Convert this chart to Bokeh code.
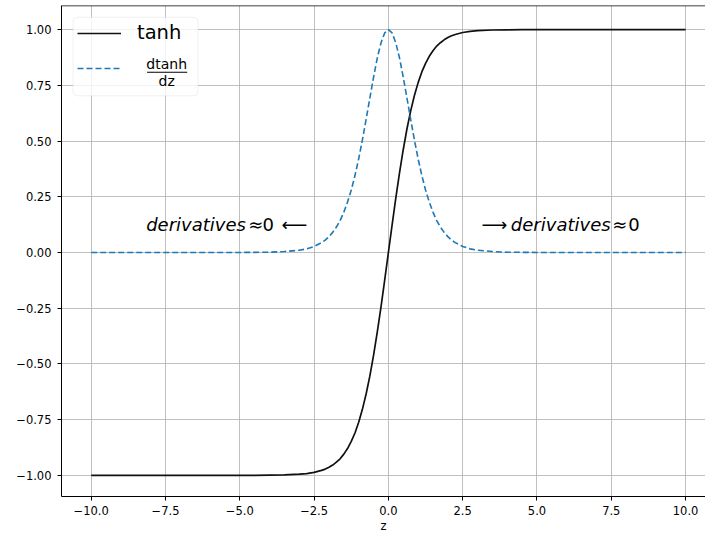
from bokeh.plotting import figure
from bokeh.models import (Range1d, FixedTicker, CustomJSTickFormatter, Legend, LegendItem,
                          BoxAnnotation, Label, ColumnDataSource, Span)
from bokeh.embed import file_html
from bokeh.resources import INLINE

# ---- data ----
z = [-10, -8, -6, -5, -4.5, -4, -3.5, -3, -2.75, -2.5, -2.25, -2.125, -2, -1.875, -1.75,
     -1.625, -1.5, -1.375, -1.25, -1.125, -1, -0.875, -0.75, -0.625, -0.5, -0.375, -0.25,
     -0.125, 0, 0.125, 0.25, 0.375, 0.5, 0.625, 0.75, 0.875, 1, 1.125, 1.25, 1.375, 1.5,
     1.625, 1.75, 1.875, 2, 2.125, 2.25, 2.5, 2.75, 3, 3.5, 4, 4.5, 5, 6, 8, 10]
tanh_vals = [-1.000, -1.000, -1.000, -1.000, -1.000, -0.999, -0.998, -0.995, -0.992, -0.987,
             -0.978, -0.972, -0.964, -0.954, -0.941, -0.926, -0.905, -0.880, -0.848, -0.810,
             -0.762, -0.704, -0.635, -0.555, -0.462, -0.358, -0.245, -0.124, 0.000, 0.124,
             0.245, 0.358, 0.462, 0.555, 0.635, 0.704, 0.762, 0.810, 0.848, 0.880, 0.905,
             0.926, 0.941, 0.954, 0.964, 0.972, 0.978, 0.987, 0.992, 0.995, 0.998, 0.999,
             1.000, 1.000, 1.000, 1.000, 1.000]
dtanh_vals = [0.000, 0.000, 0.000, 0.000, 0.0005, 0.001, 0.004, 0.010, 0.016, 0.027, 0.044,
              0.055, 0.071, 0.090, 0.114, 0.143, 0.181, 0.226, 0.280, 0.345, 0.420, 0.505,
              0.597, 0.692, 0.786, 0.872, 0.940, 0.985, 1.000, 0.985, 0.940, 0.872, 0.786,
              0.692, 0.597, 0.505, 0.420, 0.345, 0.280, 0.226, 0.181, 0.143, 0.114, 0.090,
              0.071, 0.055, 0.044, 0.027, 0.016, 0.010, 0.004, 0.001, 0.0005, 0.000, 0.000,
              0.000, 0.000]
x_ticks = [-10.0, -7.5, -5.0, -2.5, 0.0, 2.5, 5.0, 7.5, 10.0]
x_tick_labels = ["\u221210.0", "\u22127.5", "\u22125.0", "\u22122.5", "0.0", "2.5", "5.0", "7.5", "10.0"]
y_ticks = [-1.0, -0.75, -0.5, -0.25, 0.0, 0.25, 0.5, 0.75, 1.0]
y_tick_labels = ["\u22121.00", "\u22120.75", "\u22120.50", "\u22120.25", "0.00", "0.25", "0.50", "0.75", "1.00"]
series_names = ["tanh", "dtanh", "dz"]
x_label = "z"
left_note = ["derivatives", "\u2248", "0", "\u27f5"]
right_note = ["\u27f6", "derivatives", "\u2248", "0"]

FONT = "DejaVu Sans"
TICK_SIZE = "11.5px"
Y_TOP = 1.108

p = figure(width=705, height=535, output_backend="svg", toolbar_location=None,
           x_range=Range1d(-11.0, 10.67), y_range=Range1d(-1.095, Y_TOP),
           min_border_left=61, min_border_right=0, min_border_top=5, min_border_bottom=37)
p.background_fill_color = "white"
p.border_fill_color = "white"
p.outline_line_color = None

fmt_js = ("const i = tick_vals.findIndex(t => Math.abs(t - tick) < 1e-9);"
          "return i >= 0 ? tick_labels[i] : '';")
p.xaxis.ticker = FixedTicker(ticks=x_ticks)
p.yaxis.ticker = FixedTicker(ticks=y_ticks)
p.xaxis.formatter = CustomJSTickFormatter(args=dict(tick_vals=x_ticks, tick_labels=x_tick_labels), code=fmt_js)
p.yaxis.formatter = CustomJSTickFormatter(args=dict(tick_vals=y_ticks, tick_labels=y_tick_labels), code=fmt_js)

for ax in (p.xaxis[0], p.yaxis[0]):
    ax.axis_line_color = "black"
    ax.axis_line_width = 1
    ax.major_tick_line_color = "black"
    ax.major_tick_in = 0
    ax.major_tick_out = 4
    ax.minor_tick_line_color = None
    ax.major_label_text_font = FONT
    ax.major_label_text_font_size = TICK_SIZE
    ax.major_label_text_color = "black"
p.xaxis.major_label_standoff = 5
p.yaxis.major_label_standoff = 6
p.xaxis.axis_label = x_label
p.xaxis.axis_label_text_font = FONT
p.xaxis.axis_label_text_font_size = TICK_SIZE
p.xaxis.axis_label_text_font_style = "normal"
p.xaxis.axis_label_text_color = "black"
p.xaxis.axis_label_standoff = 1

p.xgrid.ticker = FixedTicker(ticks=x_ticks)
p.ygrid.ticker = FixedTicker(ticks=y_ticks)
for g in (p.xgrid[0], p.ygrid[0]):
    g.grid_line_color = "#b0b0b0"
    g.grid_line_width = 0.8

# top spine
p.add_layout(Span(location=Y_TOP, dimension="width", line_color="black", line_width=1.5))

src = ColumnDataSource(dict(z=z, t=tanh_vals, d=dtanh_vals))
r1 = p.line("z", "t", source=src, line_color="#111111", line_width=1.7)
r2 = p.line("z", "d", source=src, line_color="#1f77b4", line_width=1.6, line_dash="6 3")

# legend frame
p.add_layout(BoxAnnotation(left=-10.61, right=-6.41, top=1.055, bottom=0.703,
                           fill_color="white", fill_alpha=0.8, line_color="#cccccc",
                           line_width=1, border_radius=4))

legend = Legend(items=[LegendItem(label=series_names[0], renderers=[r1]),
                       LegendItem(label=" ", renderers=[r2])],
                location="top_left", margin=16, padding=0, spacing=14,
                glyph_width=44, glyph_height=20, label_height=20, label_standoff=16,
                label_text_font=FONT, label_text_font_size="19.5px", label_text_color="black",
                background_fill_alpha=0, border_line_alpha=0)
p.add_layout(legend)

# fraction label for the derivative series
p.add_layout(Label(x=-7.46, y=0.847, text=series_names[1], text_font=FONT, text_font_size="14px",
                   text_align="center", text_baseline="middle", text_color="black"))
p.add_layout(Label(x=-7.46, y=0.771, text=series_names[2], text_font=FONT, text_font_size="14px",
                   text_align="center", text_baseline="middle", text_color="black"))
p.add_layout(BoxAnnotation(left=-8.12, right=-6.77, top=0.8105, bottom=0.8060,
                           fill_color="black", fill_alpha=1, line_color=None))

# annotations
ann = dict(text_font=FONT, text_font_size="18px", text_baseline="alphabetic",
           text_color="black", text_align="left")
TY = 0.125
p.add_layout(Label(x=-8.15, y=TY, text=left_note[0], text_font_style="italic", **ann))
p.add_layout(Label(x=-4.72, y=TY, text=left_note[1], **ann))
p.add_layout(Label(x=-4.24, y=TY, text=left_note[2], **ann))
p.add_layout(Label(x=-3.60, y=TY, text=left_note[3], **ann))
p.add_layout(Label(x=3.13, y=TY, text=right_note[0], **ann))
p.add_layout(Label(x=4.12, y=TY, text=right_note[1], text_font_style="italic", **ann))
p.add_layout(Label(x=7.53, y=TY, text=right_note[2], **ann))
p.add_layout(Label(x=8.07, y=TY, text=right_note[3], **ann))

open("out.html", "w").write(file_html(p, INLINE))
